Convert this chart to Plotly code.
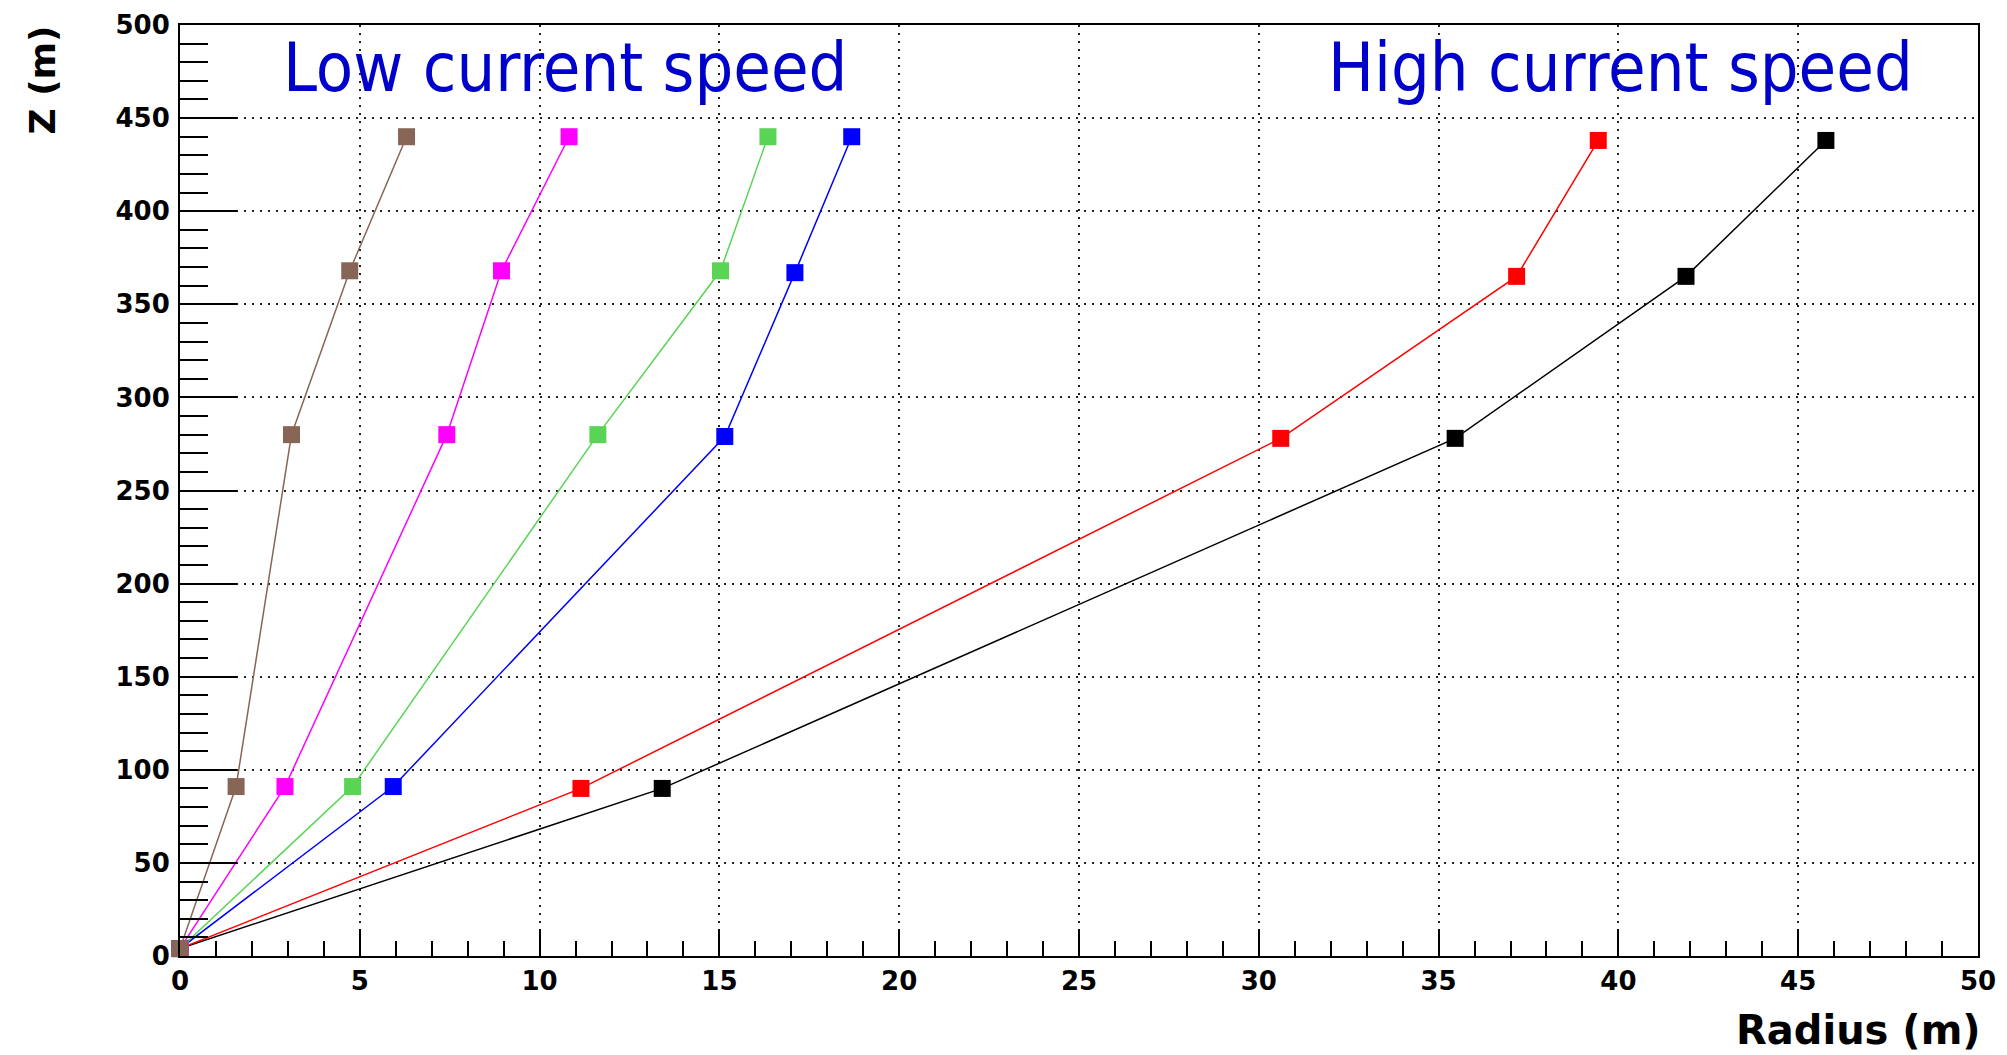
import plotly.graph_objects as go

# ---- data ----
radius_brown   = [0, 1.56, 3.10, 4.72, 6.30]
z_brown        = [4, 91, 280, 368, 440]
radius_magenta = [0, 2.92, 7.42, 8.94, 10.82]
z_magenta      = [4, 91, 280, 368, 440]
radius_green   = [0, 4.80, 11.62, 15.03, 16.35]
z_green        = [4, 91, 280, 368, 440]
radius_blue    = [0, 5.93, 15.15, 17.10, 18.68]
z_blue         = [4, 91, 279, 367, 440]
radius_red     = [0, 11.15, 30.61, 37.17, 39.44]
z_red          = [4, 90, 278, 365, 438]
radius_black   = [0, 13.41, 35.46, 41.88, 45.77]
z_black        = [4, 90, 278, 365, 438]

series = [
    ("black", radius_black, z_black, "#000000"),
    ("red", radius_red, z_red, "#ff0000"),
    ("blue", radius_blue, z_blue, "#0000ff"),
    ("green", radius_green, z_green, "#59d454"),
    ("magenta", radius_magenta, z_magenta, "#ff00ff"),
    ("brown", radius_brown, z_brown, "#876657"),
]

x_title = "Radius (m)"
y_title = "Z (m)"
label_low = "Low current speed"
label_high = "High current speed"

fig = go.Figure()
for name, xs, ys, col in series:
    fig.add_trace(go.Scatter(
        x=xs, y=ys, mode="lines+markers", name=name,
        line=dict(color=col, width=1.5),
        marker=dict(symbol="square", size=17, color=col, line=dict(width=0)),
        cliponaxis=False, showlegend=False,
    ))

# the page body has an 8px margin, so the figure is 8px smaller and shifted
OFF = 8
W, H = 2007 - OFF, 1055 - OFF
L, T = 180 - OFF, 25 - OFF
R = W - (1978 - OFF)
B = H - (956 - OFF)
pw = W - L - R
ph = H - T - B

fig.update_layout(
    width=W, height=H,
    margin=dict(l=L, r=R, t=T, b=B, pad=0, autoexpand=False),
    paper_bgcolor="white", plot_bgcolor="white",
    font=dict(family="DejaVu Sans", color="black"),
    xaxis=dict(
        range=[0, 50], dtick=5, tick0=0, automargin=False,
        showline=True, linecolor="black", linewidth=2, mirror=True,
        ticks="inside", ticklen=27, tickwidth=2, tickcolor="black",
        minor=dict(dtick=1, ticks="inside", ticklen=15, tickwidth=2, tickcolor="black", showgrid=False),
        showgrid=True, gridcolor="#222222", gridwidth=2, griddash="2px,6px",
        zeroline=False,
        tickfont=dict(family="DejaVu Sans", size=26, color="black", weight="bold"),
        ticklabelstandoff=1,
    ),
    yaxis=dict(
        range=[0, 500], dtick=50, tick0=0, automargin=False,
        showline=True, linecolor="black", linewidth=2, mirror=True,
        ticks="inside", ticklen=57, tickwidth=2, tickcolor="black",
        minor=dict(dtick=10, ticks="inside", ticklen=28, tickwidth=2, tickcolor="black", showgrid=False),
        showgrid=True, gridcolor="#222222", gridwidth=2, griddash="2px,6px",
        zeroline=False,
        tickfont=dict(family="DejaVu Sans", size=26, color="black", weight="bold"),
        ticklabelstandoff=3,
    ),
)

def px_x(p):
    # p in window pixels
    return (p - OFF - L) / pw

def px_y(p):
    return (H - B - (p - OFF)) / ph

annots = [
    dict(text=label_low, x=px_x(281), y=px_y(68), xanchor="left", yanchor="middle",
         font=dict(family="DejaVu Sans Condensed, DejaVu Sans", size=68, color="#0000cc")),
    dict(text=label_high, x=px_x(1915), y=px_y(68), xanchor="right", yanchor="middle",
         font=dict(family="DejaVu Sans Condensed, DejaVu Sans", size=68, color="#0000cc")),
    dict(text=x_title, x=px_x(1983), y=px_y(1030), xanchor="right", yanchor="middle",
         font=dict(family="DejaVu Sans", size=40, color="black", weight="bold")),
    dict(text=y_title, x=px_x(42), y=px_y(24), xanchor="center", yanchor="top", textangle=-90,
         font=dict(family="DejaVu Sans", size=36, color="black", weight="bold")),
]
for a in annots:
    fig.add_annotation(xref="paper", yref="paper", showarrow=False, **a)

fig.write_html("out.html")
